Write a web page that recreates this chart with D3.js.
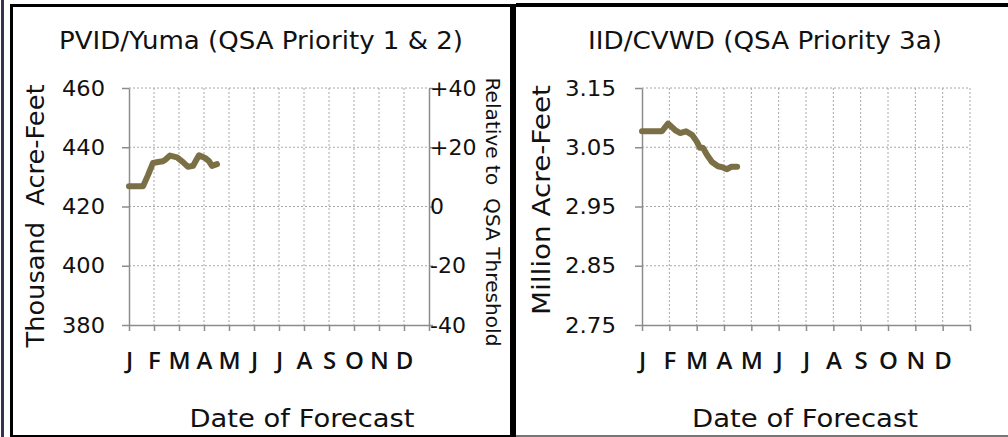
<!DOCTYPE html>
<html><head><meta charset="utf-8">
<script src="https://cdn.jsdelivr.net/npm/d3@7"></script>
<style>
html,body{margin:0;padding:0;background:#fff;}
svg{display:block;font-family:"DejaVu Sans",sans-serif;}
</style></head>
<body>
<svg id="c" width="1008" height="437"></svg>
<script>
// ---------- DATA ----------
const monthLabels = ["J","F","M","A","M","J","J","A","S","O","N","D"];

const pvidTitle = "PVID/Yuma (QSA Priority 1 & 2)";
const pvidYTicks = [380, 400, 420, 440, 460];
const pvidRelTicks = [-40, -20, 0, 20, 40];
const pvidRelLabels = ["-40", "-20", "0", "+20", "+40"];
const pvidMonths = [0, 0.56, 0.76, 0.96, 1.16, 1.36, 1.44, 1.64, 1.92, 2.16, 2.36, 2.56, 2.68, 2.8, 3.04, 3.2, 3.32, 3.52];
const pvidValues = [426.8, 426.8, 430.6, 434.7, 435.0, 435.3, 435.7, 437.2, 436.6, 435.0, 433.4, 433.7, 435.5, 437.3, 436.4, 435.3, 433.7, 434.3];

const iidTitle = "IID/CVWD (QSA Priority 3a)";
const iidYTicks = [2.75, 2.85, 2.95, 3.05, 3.15];
const iidMonths = [0, 0.73, 0.95, 1.21, 1.39, 1.61, 1.83, 2.01, 2.12, 2.23, 2.38, 2.56, 2.78, 2.96, 3.11, 3.26, 3.48];
const iidValues = [3.077, 3.077, 3.090, 3.079, 3.074, 3.077, 3.071, 3.059, 3.049, 3.049, 3.037, 3.025, 3.018, 3.016, 3.013, 3.017, 3.017];

// ---------- STYLE ----------
const lineColor = "#7b6f45";
const axisColor = "#8c8c8c";
const gridColor = "#a8a8a8";
const textColor = "#111";

const svg = d3.select("#c");

// frames
svg.append("rect").attr("x",1).attr("y",0).attr("width",3).attr("height",437).attr("fill","#3d2f4f");
svg.append("rect").attr("x",10).attr("y",4).attr("width",3).attr("height",433).attr("fill","#000");
svg.append("rect").attr("x",10).attr("y",4).attr("width",500).attr("height",3).attr("fill","#000");
svg.append("rect").attr("x",510).attr("y",4).attr("width",6).attr("height",433).attr("fill","#000");
svg.append("rect").attr("x",516).attr("y",3).attr("width",492).attr("height",4).attr("fill","#000");
svg.append("rect").attr("x",13).attr("y",435).attr("width",497).attr("height",2).attr("fill","#000");
svg.append("rect").attr("x",516).attr("y",435).attr("width",492).attr("height",2).attr("fill","#777");

function fitText(t, w){
  t.attr("textLength", w).attr("lengthAdjust","spacingAndGlyphs");
}

function panel(cfg){
  const g = svg.append("g");
  const x = d3.scaleLinear().domain([0,12]).range(cfg.xr);
  const y = d3.scaleLinear().domain([cfg.yTicks[0], cfg.yTicks[cfg.yTicks.length-1]]).range([325,88]);

  // grid
  g.append("g").selectAll("line.h").data(cfg.yTicks.slice(1)).join("line")
    .attr("x1", x(0)).attr("x2", x(12)).attr("y1", d=>y(d)).attr("y2", d=>y(d))
    .attr("stroke", gridColor).attr("stroke-width",1).attr("stroke-dasharray","2,2");
  g.append("g").selectAll("line.v").data(d3.range(1, cfg.rightAxis ? 12 : 13)).join("line")
    .attr("x1", d=>x(d)).attr("x2", d=>x(d)).attr("y1", y.range()[1]).attr("y2", y.range()[0])
    .attr("stroke", gridColor).attr("stroke-width",1).attr("stroke-dasharray","2,2");

  // x axis
  const xa = g.append("g").attr("transform","translate(0,325)")
    .call(d3.axisBottom(x).tickValues(d3.range(13)).tickFormat(i=>monthLabels[i]||"")
      .tickSize(6).tickPadding(21).tickSizeOuter(0));
  xa.attr("font-size",24).attr("font-family","'Open Sans',sans-serif");
  xa.select(".domain").attr("stroke",axisColor).attr("stroke-width",1.5);
  xa.selectAll(".tick line").attr("stroke",axisColor).attr("stroke-width",1.5);
  xa.selectAll(".tick text").attr("fill",textColor).attr("font-size",24).attr("font-weight",600);

  // y axis
  const ya = g.append("g").attr("transform",`translate(${x(0)},0)`)
    .call(d3.axisLeft(y).tickValues(cfg.yTicks).tickFormat(cfg.yFmt).tickSize(7).tickPadding(cfg.yPad).tickSizeOuter(0));
  ya.attr("font-size",22).attr("font-family","'DejaVu Sans',sans-serif");
  ya.select(".domain").attr("stroke",axisColor).attr("stroke-width",1.5);
  ya.selectAll(".tick line").attr("stroke",axisColor).attr("stroke-width",1.5);
  ya.selectAll(".tick text").attr("fill",textColor).attr("font-size",22).each(function(){ fitText(d3.select(this), cfg.yLabW); });

  if(cfg.rightAxis){
    const y2 = d3.scaleLinear().domain([cfg.rightAxis.ticks[0], cfg.rightAxis.ticks[cfg.rightAxis.ticks.length-1]]).range([325,88]);
    const ra = g.append("g").attr("transform",`translate(${x(12)},0)`)
      .call(d3.axisRight(y2).tickValues(cfg.rightAxis.ticks).tickFormat((d,i)=>cfg.rightAxis.labels[i]).tickSize(4).tickPadding(-3).tickSizeOuter(0));
    ra.attr("font-size",22).attr("font-family","'DejaVu Sans',sans-serif");
    ra.select(".domain").attr("stroke",axisColor).attr("stroke-width",1.5);
    ra.selectAll(".tick line").attr("stroke",axisColor).attr("stroke-width",1.5);
    ra.selectAll(".tick text").attr("fill",textColor).attr("font-size",22);
    const rt = g.append("text").attr("transform",`translate(${cfg.rightAxis.tx},${cfg.rightAxis.ty}) rotate(90)`)
      .attr("text-anchor","middle").attr("dy","0.35em").attr("fill",textColor)
      .attr("font-size",19).text(cfg.rightAxis.title);
    fitText(rt, 269);
  }

  // line
  const pts = cfg.months.map((m,i)=>[m, cfg.values[i]]);
  g.append("path").datum(pts)
    .attr("d", d3.line().x(d=>x(d[0])).y(d=>y(d[1])))
    .attr("fill","none").attr("stroke",lineColor).attr("stroke-width",6)
    .attr("stroke-linejoin","round").attr("stroke-linecap","round");

  // titles
  const tt = g.append("text").attr("x",cfg.titleX).attr("y",49).attr("text-anchor","middle")
    .attr("fill",textColor).attr("font-size",24).text(cfg.title);
  fitText(tt, cfg.titleW);
  const xt = g.append("text").attr("x",cfg.xtX).attr("y",427).attr("text-anchor","middle")
    .attr("fill",textColor).attr("font-size",25).text("Date of Forecast");
  fitText(xt, cfg.xtW);
  const yt = g.append("text").attr("transform",`translate(${cfg.ytX},${cfg.ytY}) rotate(-90)`)
    .attr("text-anchor","middle").attr("dy","0.35em").attr("fill",textColor)
    .attr("font-size",24).text(cfg.yTitle);
  fitText(yt, cfg.ytW);
}

panel({
  xr:[129,429], yTicks:pvidYTicks, yFmt:d=>d3.format("d")(d), yPad:17, yLabW:43,
  months:pvidMonths, values:pvidValues,
  title:pvidTitle, titleX:261, titleW:404,
  xtX:302, xtW:225,
  yTitle:"Thousand\u00a0\u00a0Acre-Feet", ytX:36, ytY:216, ytW:263,
  rightAxis:{ticks:pvidRelTicks, labels:pvidRelLabels, title:"Relative to\u00a0\u00a0QSA Threshold", tx:493, ty:212}
});

panel({
  xr:[642,970], yTicks:iidYTicks, yFmt:d=>d3.format(".2f")(d), yPad:19, yLabW:51,
  months:iidMonths, values:iidValues,
  title:iidTitle, titleX:765, titleW:354,
  xtX:805, xtW:226,
  yTitle:"Million Acre-Feet", ytX:542, ytY:200, ytW:230
});
</script>
</body></html>
